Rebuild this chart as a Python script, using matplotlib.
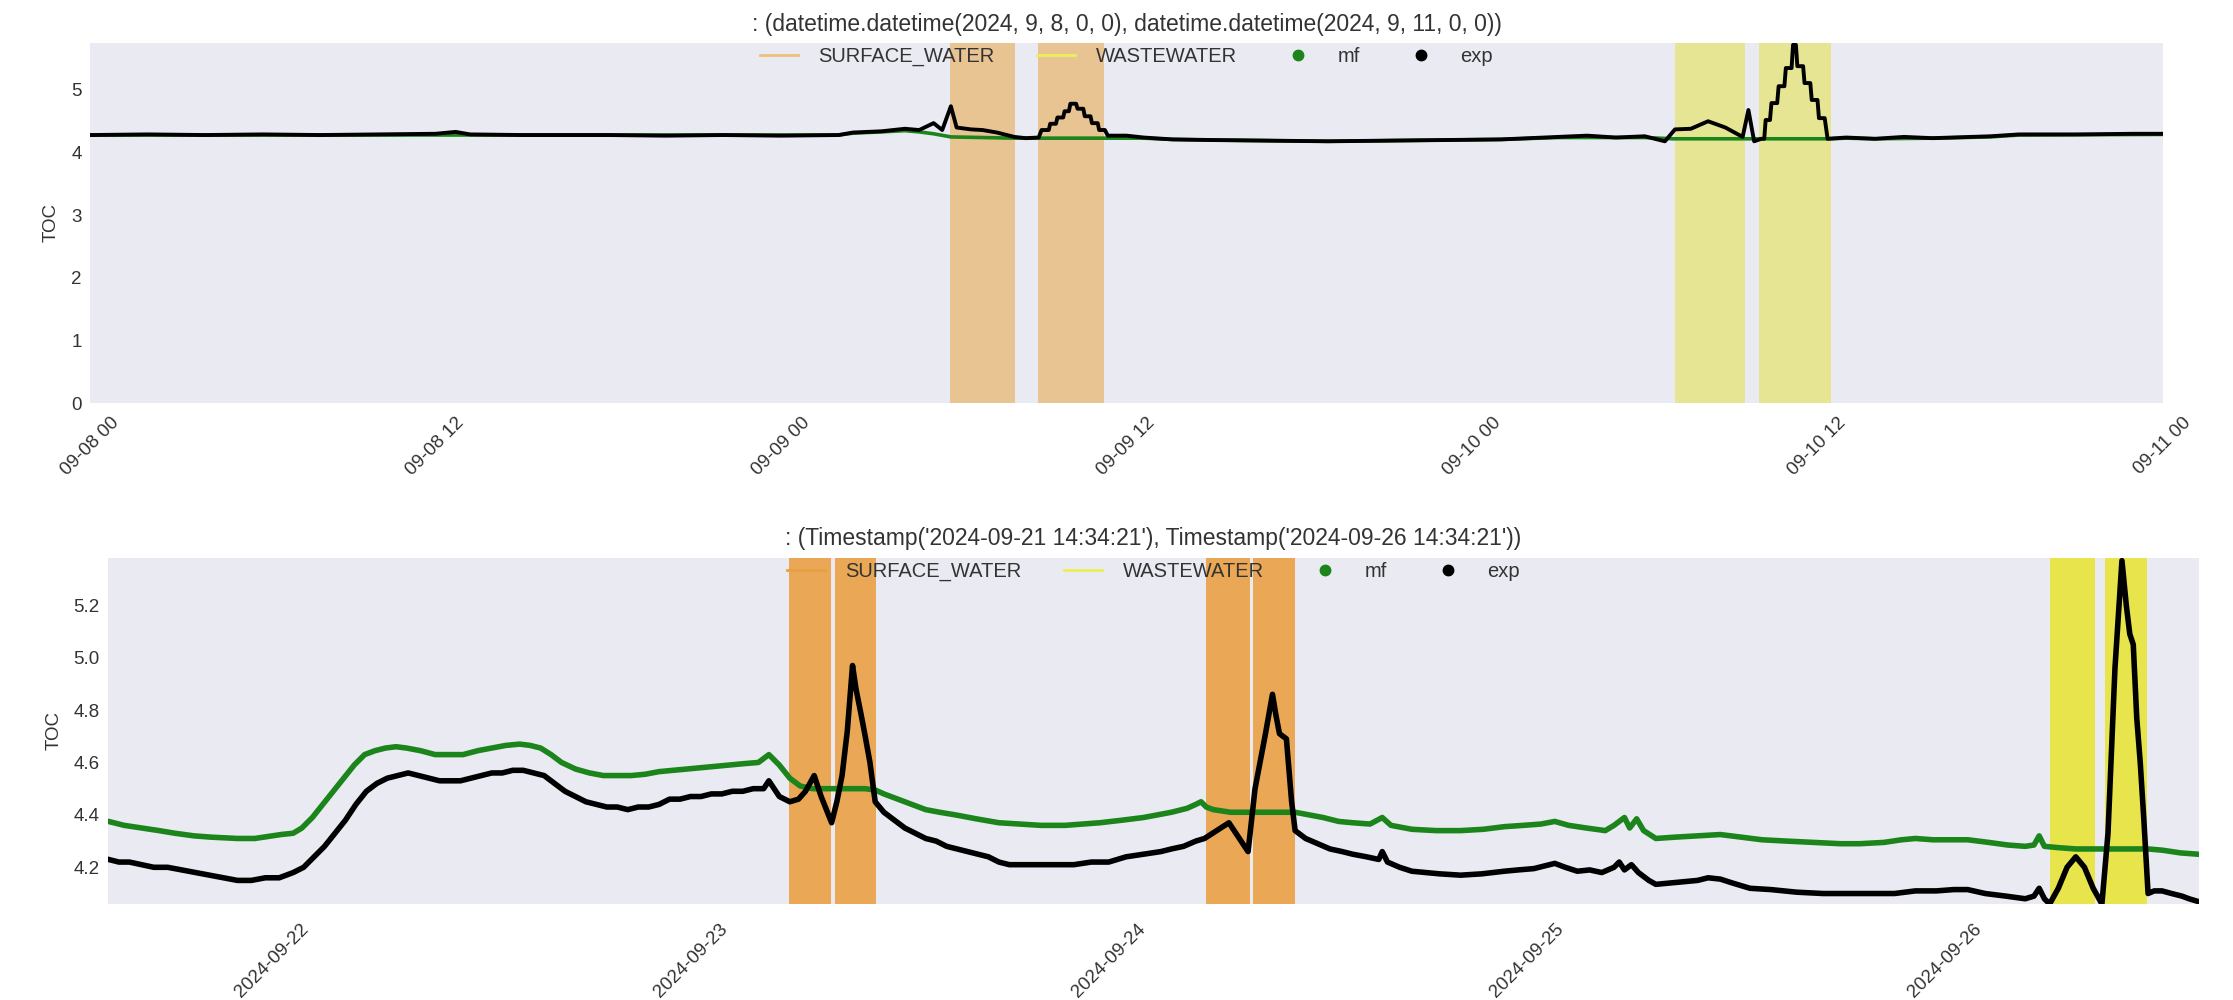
import matplotlib
matplotlib.use("Agg")
import matplotlib.pyplot as plt
import matplotlib.dates as mdates
from matplotlib.lines import Line2D
import pandas as pd

plt.rcParams['font.family'] = ['Liberation Sans', 'DejaVu Sans']

# ---------------- data: top panel (hours after 2024-09-08 00:00) ----------------
top_start = "2024-09-08 00:00:00"
top_end = "2024-09-11 00:00:00"
top_title = ": (datetime.datetime(2024, 9, 8, 0, 0), datetime.datetime(2024, 9, 11, 0, 0))"

top_exp_h = [0.0, 2.0, 4.0, 6.0, 8.0, 10.0, 12.0, 12.7, 13.2, 15.0, 18.0, 20.0, 22.0, 24.0, 26.0,
             26.5, 27.5, 28.3, 28.8, 29.3, 29.6, 29.9, 30.1, 30.6, 31.0, 31.5, 32.1, 32.5, 32.95,
             33.05, 33.3, 33.35, 33.55, 33.6, 33.8, 33.85, 34.0, 34.05, 34.25, 34.3, 34.5, 34.55,
             34.75, 34.8, 35.0, 35.05, 35.25, 35.35, 36.0, 36.6, 37.6, 39.0, 41.0, 43.0, 45.0,
             47.0, 49.0, 51.0, 52.0, 53.0, 54.0, 54.7, 55.05, 55.6, 56.2, 56.8, 57.4, 57.6, 57.8,
             58.05, 58.15, 58.2, 58.35, 58.4, 58.6, 58.65, 58.85, 58.9, 59.1, 59.15, 59.25, 59.3,
             59.5, 59.55, 59.75, 59.8, 60.0, 60.05, 60.25, 60.35, 61.0, 62.0, 63.0, 64.0, 66.0,
             67.0, 69.0, 71.0, 72.0]
top_exp_v = [4.28, 4.29, 4.28, 4.29, 4.28, 4.29, 4.30, 4.33, 4.29, 4.28, 4.28, 4.27, 4.28, 4.27, 4.28,
             4.32, 4.34, 4.38, 4.36, 4.47, 4.36, 4.74, 4.40, 4.37, 4.36, 4.32, 4.25, 4.23, 4.24,
             4.36, 4.36, 4.46, 4.46, 4.56, 4.56, 4.66, 4.66, 4.78, 4.78, 4.70, 4.70, 4.58,
             4.58, 4.47, 4.47, 4.36, 4.36, 4.27, 4.27, 4.24, 4.21, 4.20, 4.19, 4.18, 4.19,
             4.20, 4.21, 4.25, 4.27, 4.24, 4.26, 4.18, 4.37, 4.38, 4.50, 4.40, 4.25, 4.68, 4.18,
             4.22, 4.22, 4.52, 4.52, 4.79, 4.79, 5.06, 5.06, 5.35, 5.35, 5.72, 5.72, 5.38,
             5.38, 5.11, 5.11, 4.84, 4.84, 4.55, 4.55, 4.22, 4.24, 4.22, 4.25, 4.23, 4.26,
             4.29, 4.29, 4.30, 4.30]

top_mf_h = [0.0, 26.0, 26.5, 27.5, 28.3, 28.8, 29.3, 29.9, 32.1, 35.4, 36.6, 37.6, 39.0, 41.0, 43.0,
            45.0, 47.0, 49.0, 51.0, 54.0, 55.0, 57.5, 60.4, 61.0, 62.0, 64.0, 66.0, 67.0, 72.0]
top_mf_v = [4.28, 4.28, 4.31, 4.33, 4.35, 4.33, 4.30, 4.25, 4.23, 4.23, 4.23, 4.21, 4.20, 4.19, 4.18,
            4.19, 4.20, 4.21, 4.24, 4.24, 4.22, 4.22, 4.22, 4.23, 4.22, 4.23, 4.25, 4.28, 4.29]

top_surface = [("2024-09-09 05:52", "2024-09-09 08:08"), ("2024-09-09 08:56", "2024-09-09 11:13")]
top_waste = [("2024-09-10 07:03", "2024-09-10 09:28"), ("2024-09-10 09:58", "2024-09-10 12:28")]

# ---------------- data: bottom panel (hours after 2024-09-21 00:00) ----------------
bot_start = "2024-09-21 14:34:21"
bot_end = "2024-09-26 14:34:21"
bot_title = ": (Timestamp('2024-09-21 14:34:21'), Timestamp('2024-09-26 14:34:21'))"

bot_exp_h = [14.6, 15.2, 15.8, 16.5, 17.2, 18.0, 18.8, 19.6, 20.4, 21.2, 22.0, 22.8, 23.6, 24.4, 25.2,
             25.8, 26.4, 27.0, 27.6, 28.2, 28.8, 29.4, 30.0, 30.6, 31.2, 31.8, 32.4, 33.0, 33.6, 34.2,
             34.8, 35.4, 36.0, 36.6, 37.2, 37.8, 38.4, 39.0, 39.6, 40.2, 40.8, 41.4, 42.0, 42.6, 43.2,
             43.8, 44.4, 45.0, 45.6, 46.2, 46.8, 47.4, 48.0, 48.6, 49.2, 49.8, 50.4, 51.0, 51.6, 52.2,
             52.5, 52.8, 53.1, 53.7, 54.2, 54.6, 55.1, 55.5, 55.8, 56.1, 56.4, 56.7, 57.0, 57.3, 57.5,
             57.8, 58.0, 58.3, 58.6, 59.1, 59.7, 60.3, 60.9, 61.5, 62.1, 62.7, 63.3, 63.9, 64.5, 65.1,
             65.7, 66.3, 67.0, 68.0, 69.0, 70.0, 71.0, 72.0, 73.0, 74.0, 75.0, 75.6, 76.3, 77.0, 77.5,
             78.2, 78.9, 79.4, 80.0, 80.4, 81.0, 81.4, 81.6, 81.8, 82.2, 82.5, 82.7, 83.3, 84.0, 84.7,
             85.4, 86.0, 86.8, 87.5, 87.7, 88.0, 88.7, 89.4, 90.2, 91.0, 92.2, 93.4, 94.7, 95.5, 96.4,
             97.0, 97.6, 98.2, 98.9, 99.6, 100.3, 101.0, 101.3, 101.6, 102.0, 102.4, 103.0, 103.4,
             104.2, 105.0, 105.8, 106.4, 107.1, 107.8, 108.8, 110.0, 111.5, 113.0, 114.5, 116.0,
             117.1, 118.3, 119.5, 120.5, 121.3, 122.3, 123.5, 124.6, 125.1, 125.4, 125.7, 126.0,
             126.5, 127.0, 127.5, 128.0, 128.5, 129.0, 129.35, 129.75, 130.15, 130.4, 130.6, 130.8,
             131.0, 131.2, 131.4, 131.65, 132.0, 132.45, 133.0, 133.6, 134.0, 134.5]
bot_exp_v = [4.23, 4.22, 4.22, 4.21, 4.20, 4.20, 4.19, 4.18, 4.17, 4.16, 4.15, 4.15, 4.16, 4.16, 4.18,
             4.20, 4.24, 4.28, 4.33, 4.38, 4.44, 4.49, 4.52, 4.54, 4.55, 4.56, 4.55, 4.54, 4.53, 4.53,
             4.53, 4.54, 4.55, 4.56, 4.56, 4.57, 4.57, 4.56, 4.55, 4.52, 4.49, 4.47, 4.45, 4.44, 4.43,
             4.43, 4.42, 4.43, 4.43, 4.44, 4.46, 4.46, 4.47, 4.47, 4.48, 4.48, 4.49, 4.49, 4.50, 4.50,
             4.53, 4.50, 4.47, 4.45, 4.46, 4.49, 4.55, 4.47, 4.42, 4.37, 4.45, 4.55, 4.72, 4.97, 4.88,
             4.78, 4.71, 4.60, 4.45, 4.41, 4.38, 4.35, 4.33, 4.31, 4.30, 4.28, 4.27, 4.26, 4.25, 4.24,
             4.22, 4.21, 4.21, 4.21, 4.21, 4.21, 4.22, 4.22, 4.24, 4.25, 4.26, 4.27, 4.28, 4.30, 4.31,
             4.34, 4.37, 4.32, 4.26, 4.50, 4.71, 4.86, 4.78, 4.71, 4.69, 4.45, 4.34, 4.31, 4.29, 4.27,
             4.26, 4.25, 4.24, 4.23, 4.26, 4.22, 4.20, 4.185, 4.18, 4.175, 4.17, 4.175, 4.185, 4.19, 4.195,
             4.205, 4.215, 4.20, 4.185, 4.19, 4.18, 4.20, 4.22, 4.19, 4.21, 4.18, 4.15, 4.135,
             4.14, 4.145, 4.15, 4.16, 4.155, 4.14, 4.12, 4.115, 4.105, 4.10, 4.10, 4.10,
             4.10, 4.11, 4.11, 4.115, 4.115, 4.10, 4.09, 4.08, 4.09, 4.12, 4.08, 4.06,
             4.12, 4.20, 4.24, 4.20, 4.12, 4.06, 4.33, 4.96, 5.37, 5.20, 5.09, 5.05,
             4.77, 4.60, 4.39, 4.10, 4.11, 4.11, 4.10, 4.09, 4.08, 4.07]

bot_mf_h = [14.6, 15.5, 16.5, 17.5, 18.4, 19.5, 20.5, 22.0, 23.0, 24.5, 25.2, 25.7, 26.3, 26.9, 27.5,
            28.1, 28.7, 29.3, 29.9, 30.5, 31.1, 31.7, 32.5, 33.35, 34.2, 34.95, 35.8, 36.6, 37.4, 38.2,
            38.8, 39.4, 40.0, 40.6, 41.4, 42.2, 43.0, 43.8, 44.6, 45.4, 46.2, 47.0, 47.8, 48.6, 49.4,
            50.2, 51.0, 51.9, 52.5, 53.1, 53.7, 54.3, 55.0, 56.0, 57.0, 58.0, 58.6, 59.1, 59.9, 60.7,
            61.5, 62.3, 63.2, 64.4, 65.7, 66.9, 68.1, 69.5, 70.5, 71.5, 72.8, 74.0, 74.8, 75.6, 76.5,
            77.0, 77.3, 77.6, 78.0, 79.0, 80.0, 81.0, 82.0, 82.7, 83.5, 84.3, 85.2, 86.0, 87.0, 87.7,
            88.2, 89.4, 90.8, 92.2, 93.5, 94.7, 95.8, 96.8, 97.6, 98.4, 99.4, 100.5, 101.0, 101.6,
            101.9, 102.3, 102.7, 103.4, 104.5, 105.8, 107.1, 108.3, 109.5, 110.9, 112.5, 114.0, 115.1,
            116.5, 117.5, 118.3, 119.3, 120.3, 121.3, 122.5, 123.6, 124.6, 125.1, 125.4, 125.7, 126.5,
            127.5, 129.0, 130.5, 131.65, 132.5, 133.5, 134.5]
bot_mf_v = [4.375, 4.36, 4.35, 4.34, 4.33, 4.32, 4.315, 4.31, 4.31, 4.325, 4.33, 4.35, 4.39, 4.44, 4.49,
            4.54, 4.59, 4.63, 4.645, 4.655, 4.66, 4.655, 4.645, 4.63, 4.63, 4.63, 4.645, 4.655, 4.665, 4.67,
            4.665, 4.655, 4.63, 4.60, 4.575, 4.56, 4.55, 4.55, 4.55, 4.555, 4.565, 4.57, 4.575, 4.58, 4.585,
            4.59, 4.595, 4.60, 4.63, 4.59, 4.54, 4.51, 4.50, 4.50, 4.50, 4.50, 4.495, 4.48, 4.46, 4.44,
            4.42, 4.41, 4.40, 4.385, 4.37, 4.365, 4.36, 4.36, 4.365, 4.37, 4.38, 4.39, 4.40, 4.41, 4.425,
            4.44, 4.45, 4.43, 4.42, 4.41, 4.41, 4.41, 4.41, 4.41, 4.40, 4.39, 4.375, 4.37, 4.365, 4.39,
            4.36, 4.345, 4.34, 4.34, 4.345, 4.355, 4.36, 4.365, 4.375, 4.36, 4.35, 4.34, 4.36, 4.39,
            4.35, 4.385, 4.34, 4.31, 4.315, 4.32, 4.325, 4.315, 4.305, 4.30, 4.295, 4.29, 4.29,
            4.295, 4.305, 4.31, 4.305, 4.305, 4.305, 4.295, 4.285, 4.28, 4.285, 4.32, 4.28, 4.275,
            4.27, 4.27, 4.27, 4.27, 4.265, 4.255, 4.25]

bot_surface = [("2024-09-23 05:39", "2024-09-23 08:04"), ("2024-09-23 08:18", "2024-09-23 10:39"),
               ("2024-09-24 05:35", "2024-09-24 08:06"), ("2024-09-24 08:17", "2024-09-24 10:41")]
bot_waste = [("2024-09-26 06:01", "2024-09-26 08:36"), ("2024-09-26 09:10", "2024-09-26 11:35")]

legend_labels = ["SURFACE_WATER", "WASTEWATER", "mf", "exp"]

# ---------------- styles ----------------
BG = "#EAEAF2"
GREEN = "#1b841b"
TXT = "#333333"
fig = plt.figure(figsize=(22.33, 10), dpi=100)
fig.patch.set_facecolor("white")


def times(base_day, hours):
    return pd.Timestamp(base_day) + pd.to_timedelta(hours, unit="h")


def style_axes(ax):
    ax.set_facecolor(BG)
    for s in ax.spines.values():
        s.set_visible(False)
    ax.grid(False)
    ax.tick_params(axis="both", length=0, labelsize=13.5, colors=TXT)
    ax.tick_params(axis="y", pad=6)
    ax.set_ylabel("TOC", fontsize=13.5, color=TXT, labelpad=8)


def add_legend(ax, c_surf, c_waste):
    handles = [Line2D([], [], color=c_surf, lw=2),
               Line2D([], [], color=c_waste, lw=2),
               Line2D([], [], color=GREEN, marker="o", lw=0, markersize=7.5),
               Line2D([], [], color="black", marker="o", lw=0, markersize=7.5)]
    ax.legend(handles, legend_labels, loc="upper center", bbox_to_anchor=(0.5, 1.0), ncol=4,
              frameon=False, fontsize=14.5, columnspacing=2.1, handlelength=1.9,
              handletextpad=1.0, borderaxespad=0.0, borderpad=0.2, labelcolor=TXT)


# ---------------- top panel ----------------
ax1 = fig.add_axes([90 / 2233, 1 - 403 / 1000, (2163 - 90) / 2233, 360 / 1000])
style_axes(ax1)
ax1.plot(times("2024-09-08", top_mf_h), top_mf_v, color=GREEN, lw=2.6)
ax1.plot(times("2024-09-08", top_exp_h), top_exp_v, color="black", lw=2.8)
for a, b in top_surface:
    ax1.axvspan(pd.Timestamp(a), pd.Timestamp(b), color=(0.90, 0.59, 0.12), alpha=0.45, lw=0)
for a, b in top_waste:
    ax1.axvspan(pd.Timestamp(a), pd.Timestamp(b), color=(0.88, 0.88, 0.12), alpha=0.45, lw=0)
ax1.set_xlim(pd.Timestamp(top_start), pd.Timestamp(top_end))
ax1.set_ylim(0, 5.75)
ax1.set_yticks([0, 1, 2, 3, 4, 5])
ax1.xaxis.set_major_locator(mdates.HourLocator(byhour=[0, 12]))
ax1.xaxis.set_major_formatter(mdates.DateFormatter("%m-%d %H"))
ax1.tick_params(axis="x", pad=8)
plt.setp(ax1.get_xticklabels(), rotation=45, ha="center")
ax1.set_title(top_title, fontsize=16.5, color=TXT, pad=9)
add_legend(ax1, "#efbf78", "#eeee60")

# ---------------- bottom panel ----------------
ax2 = fig.add_axes([108 / 2233, 1 - 904 / 1000, (2199 - 108) / 2233, 346 / 1000])
style_axes(ax2)
ax2.plot(times("2024-09-21", bot_mf_h), bot_mf_v, color=GREEN, lw=4)
ax2.plot(times("2024-09-21", bot_exp_h), bot_exp_v, color="black", lw=4)
for a, b in bot_surface:
    ax2.axvspan(pd.Timestamp(a), pd.Timestamp(b), color=(0.92, 0.55, 0.08), alpha=0.7, lw=0)
for a, b in bot_waste:
    ax2.axvspan(pd.Timestamp(a), pd.Timestamp(b), color=(0.90, 0.89, 0.08), alpha=0.75, lw=0)
ax2.set_xlim(pd.Timestamp(bot_start), pd.Timestamp(bot_end))
ax2.set_ylim(4.06, 5.38)
ax2.set_yticks([4.2, 4.4, 4.6, 4.8, 5.0, 5.2])
ax2.yaxis.set_major_formatter(matplotlib.ticker.FormatStrFormatter("%.1f"))
ax2.xaxis.set_major_locator(mdates.DayLocator())
ax2.xaxis.set_major_formatter(mdates.DateFormatter("%Y-%m-%d"))
ax2.tick_params(axis="x", pad=12)
plt.setp(ax2.get_xticklabels(), rotation=45, ha="center")
ax2.set_title(bot_title, fontsize=16.5, color=TXT, pad=9)
add_legend(ax2, "#e8a040", "#eeee50")

fig.savefig("out.png", dpi=100)
